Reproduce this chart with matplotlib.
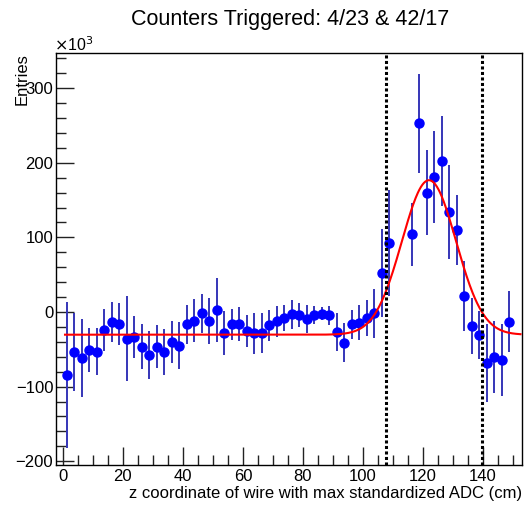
import numpy as np
import matplotlib
matplotlib.use("Agg")
import matplotlib.pyplot as plt
from matplotlib.ticker import MultipleLocator

plt.rcParams['font.family'] = ['Liberation Sans', 'DejaVu Sans']

# histogram: 60 bins of 2.5 cm from 0 to 150 (values in units of 10^3 entries)
bin_edges = np.linspace(0, 150, 61)
counts = [-84.6, -54, -62, -51, -53, -24, -13, -16.5, -36, -33,
          -46.5, -58, -46.5, -54, -40, -45, -16.5, -11.6, -1.8, -11.6,
          2.2, -28, -16.5, -16.5, -25.5, -28.6, -27.7, -18, -12.5, -8,
          -3.1, -4, -9, -4.5, -2.2, -4.5, -26.8, -41, -16.5, -14.3,
          -7.6, -1.8, 52, 92.6, np.nan, np.nan, 104, 252.8, 159.7, 181,
          202.7, 134.6, 109.7, 21.9, -18.8, -31.3, -68, -60.4, -64, -13]
errors = [98, 52, 52, 29, 32, 28, 27, 28, 57, 28,
          30, 32, 29, 31, 28, 31, 26, 29, 26, 31,
          43, 29, 21, 23, 22, 27, 27, 21, 21, 17,
          19.5, 16, 18.5, 12, 8.5, 12.7, 25, 26, 19.5, 23.5,
          24, 32.5, 59, 71, np.nan, np.nan, 42, 66, 57, 62,
          60, 63, 47, 47, 38, 32, 52, 48, 48, 41]

# fit: constant + gaussian
fit_const = -30.4
fit_amp = 207.0
fit_mean = 122.0
fit_sigma = 9.0
fit_range = (0.7, 152.5)

cut_lines = [107.6, 139.7]

title = "Counters Triggered: 4/23 & 42/17"
xlabel = "z coordinate of wire with max standardized ADC (cm)"
ylabel = "Entries"

centers = 0.5 * (bin_edges[:-1] + bin_edges[1:])
counts = np.array(counts, dtype=float)
errors = np.array(errors, dtype=float)

fig = plt.figure(figsize=(5.25, 5.05), dpi=100)
ax = fig.add_axes([0.1067, 0.0792, 0.9943 - 0.1067, 0.895 - 0.0792])

ax.errorbar(centers, counts, yerr=errors, fmt='o', color='#0000ff',
            ecolor='#3535b8', elinewidth=1.4, markersize=6.5, capsize=0, zorder=3)

xf = np.linspace(fit_range[0], fit_range[1], 600)
yf = fit_const + fit_amp * np.exp(-0.5 * ((xf - fit_mean) / fit_sigma) ** 2)
ax.plot(xf, yf, color='#ff0000', lw=1.5, zorder=4)

for xc in cut_lines:
    ax.axvline(xc, color='black', lw=2.2, linestyle=(0, (1, 0.8)), zorder=5)

ax.set_xlim(-2.3, 153)
ax.set_ylim(-205, 347)
ax.xaxis.set_major_locator(MultipleLocator(20))
ax.xaxis.set_minor_locator(MultipleLocator(5))
ax.yaxis.set_major_locator(MultipleLocator(100))
ax.yaxis.set_minor_locator(MultipleLocator(20))
ax.tick_params(which='both', direction='in', top=False, right=False,
               labelsize=12, width=1, color='#222222')
ax.tick_params(which='major', length=13)
ax.tick_params(which='minor', length=7)
ax.tick_params(axis='x', pad=3)
ax.tick_params(axis='y', pad=2)
for sp in ax.spines.values():
    sp.set_linewidth(1.0)

fig.text(0.553, 0.962, title, ha='center', va='center', fontsize=15.5)
fig.text(0.994, 0.022, xlabel, ha='right', va='center', fontsize=12)
fig.text(0.042, 0.895, ylabel, ha='center', va='top', rotation=90, fontsize=12)
fig.text(0.103, 0.912, r"$\times$10$^{3}$", ha='left', va='center', fontsize=11.5)

fig.savefig("out.png", dpi=100)
